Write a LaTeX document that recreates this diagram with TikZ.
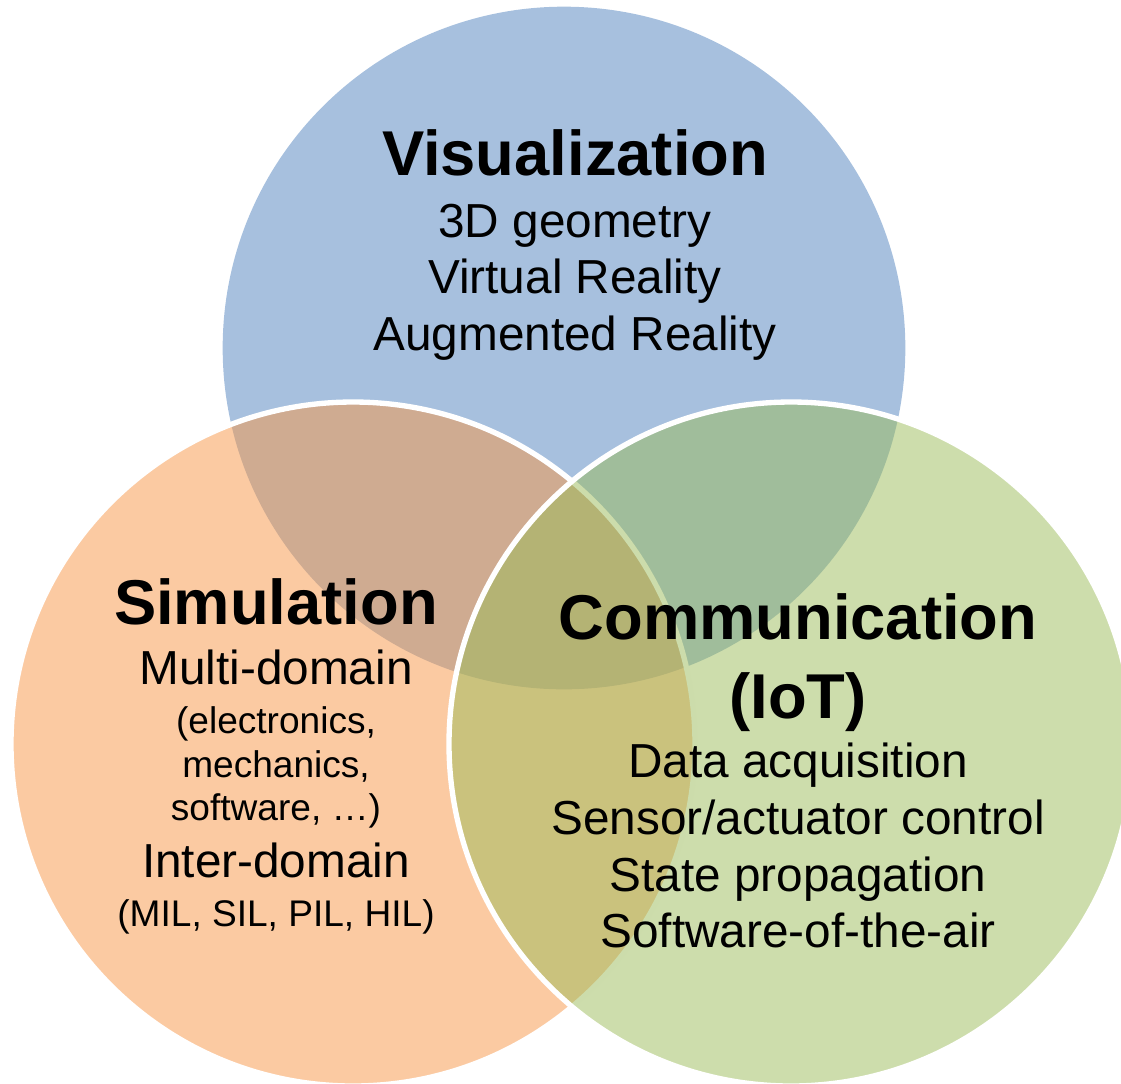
\documentclass[tikz,border=0pt]{standalone}
\usepackage{fontspec}
\setmainfont{Liberation Sans}
\definecolor{visblue}{HTML}{4F81BD}
\definecolor{simorange}{HTML}{F79646}
\definecolor{comgreen}{HTML}{9BBB59}
\begin{document}
\begin{tikzpicture}[x=0.75pt,y=-0.75pt,
  bubble/.style={fill opacity=0.5},
  ring/.style={draw=white, line width=4pt, draw opacity=1},
  title/.style={inner sep=0pt, anchor=base, text=black, font=\fontsize{47.5}{57}\selectfont\bfseries},
  item/.style={inner sep=0pt, anchor=base, text=black, font=\fontsize{35.8}{43}\selectfont},
  small/.style={inner sep=0pt, anchor=base, text=black, font=\fontsize{27.8}{33}\selectfont}]
\useasboundingbox (0,0) rectangle (1121,1083);
\clip (0,0) rectangle (1121,1083);
% circles
\path[bubble, fill=visblue] (564,348) circle [radius=256pt];
\path[bubble, fill=simorange, ring] (353,744) circle [radius=256.5pt];
\path[bubble, fill=comgreen, ring] (791,744) circle [radius=256.5pt];
% Visualization
\node[title] (vt) at (575,175) {Visualization};
\node[item] (v1) at (575,237) {3D geometry};
\node[item] (v2) at (575,293) {Virtual Reality};
\node[item] (v3) at (575,350) {Augmented Reality};
% Simulation
\node[title] (st) at (276,624) {Simulation};
\node[item] (s1) at (276,684) {Multi-domain};
\node[small] (s2) at (276,733) {(electronics,};
\node[small] (s3) at (276,777) {mechanics,};
\node[small] (s4) at (276,820) {software, …)};
\node[item] (s5) at (276,877) {Inter-domain};
\node[small] (s6) at (276,926) {(MIL, SIL, PIL, HIL)};
% Communication
\node[title] (ct) at (798,639) {Communication};
\node[title] (ct2) at (798,718) {(IoT)};
\node[item] (c1) at (798,777) {Data acquisition};
\node[item] (c2) at (798,834) {Sensor/actuator control};
\node[item] (c3) at (798,891) {State propagation};
\node[item] (c4) at (798,947) {Software-of-the-air};
\end{tikzpicture}
\end{document}
